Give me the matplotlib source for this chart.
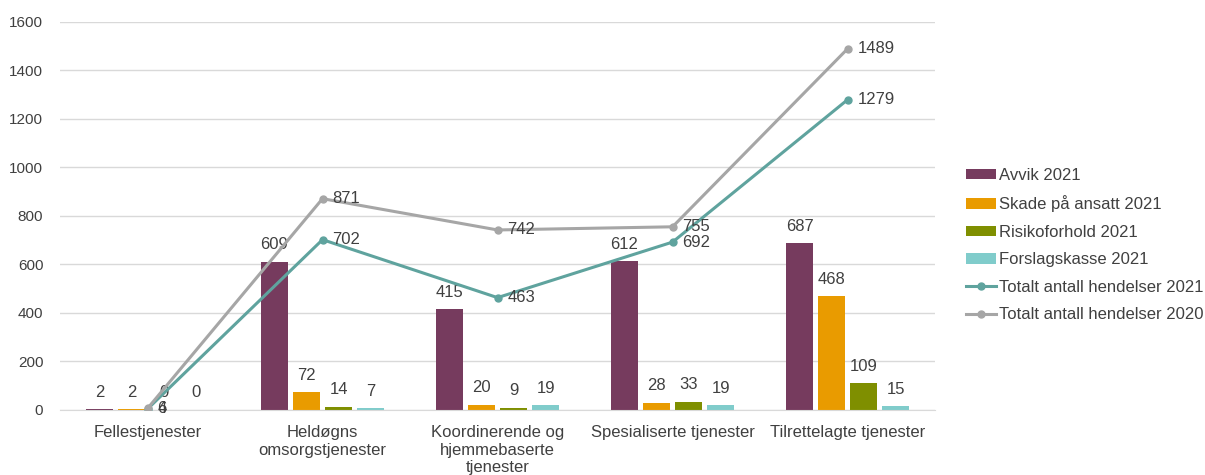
import matplotlib.pyplot as plt
import numpy as np

plt.rcParams['font.family'] = ['Liberation Sans', 'DejaVu Sans']

categories = ['Fellestjenester', 'Heldøgns\nomsorgstjenester',
              'Koordinerende og\nhjemmebaserte\ntjenester',
              'Spesialiserte tjenester', 'Tilrettelagte tjenester']
avvik = [2, 609, 415, 612, 687]
skade = [2, 72, 20, 28, 468]
risiko = [0, 14, 9, 33, 109]
forslag = [0, 7, 19, 19, 15]
total_2021 = [4, 702, 463, 692, 1279]
total_2020 = [6, 871, 742, 755, 1489]

bar_series = [
    ('Avvik 2021', avvik, '#763B5E'),
    ('Skade på ansatt 2021', skade, '#E99B00'),
    ('Risikoforhold 2021', risiko, '#7F8F00'),
    ('Forslagskasse 2021', forslag, '#80CCCB'),
]
line_series = [
    ('Totalt antall hendelser 2021', total_2021, '#5FA39E'),
    ('Totalt antall hendelser 2020', total_2020, '#A6A6A6'),
]

text_col = '#404040'
fs = 12
fig = plt.figure(figsize=(12.05, 4.75), dpi=100)
ax = fig.add_axes([0.0498, 0.137, 0.7262, 0.817])

x = np.arange(len(categories))
step = 0.183
width = 0.15
handles = []
for i, (name, vals, col) in enumerate(bar_series):
    pos = x + (i - 1.5) * step
    bars = ax.bar(pos, vals, width, color=col, label=name, zorder=2)
    handles.append(bars)
    for xp, v in zip(pos, vals):
        ax.annotate(str(v), (xp, v), xytext=(0, 7), textcoords='offset points',
                    ha='center', va='bottom', fontsize=fs, color=text_col)

for name, vals, col in line_series:
    ln, = ax.plot(x, vals, color=col, lw=2.2, marker='o', markersize=5, label=name, zorder=3)
    handles.append(ln)
    for xp, v in zip(x, vals):
        ax.annotate(str(v), (xp, v), xytext=(7, 0), textcoords='offset points',
                    ha='left', va='center', fontsize=fs, color=text_col, zorder=4)

ax.set_xlim(-0.5, len(categories) - 0.5)
ax.set_ylim(0, 1600)
ax.set_yticks(range(0, 1601, 200))
ax.set_xticks(x)
ax.set_xticklabels(categories, fontsize=fs, color=text_col, linespacing=1.2)
ax.tick_params(axis='x', length=0, pad=11, labelcolor=text_col)
ax.tick_params(axis='y', length=0, pad=12, labelsize=11, labelcolor=text_col)
ax.grid(axis='y', color='#D9D9D9', lw=1, zorder=0)
ax.set_axisbelow(True)
for s in ['top', 'right', 'left']:
    ax.spines[s].set_visible(False)
ax.spines['bottom'].set_color('#D9D9D9')

ax.legend(handles=handles, loc='center left', bbox_to_anchor=(0.789, 0.484),
          bbox_transform=fig.transFigure, frameon=False, fontsize=fs,
          labelcolor=text_col, handlelength=1.8, handleheight=0.6,
          labelspacing=0.75, handletextpad=0.2)

fig.savefig('out.png', dpi=100)
